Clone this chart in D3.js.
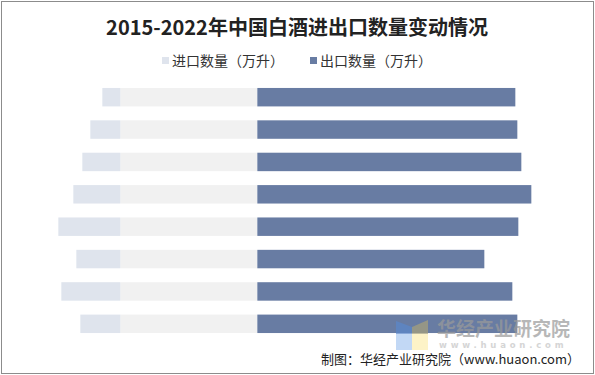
<!DOCTYPE html>
<html>
<head>
<meta charset="utf-8">
<script src="https://cdn.jsdelivr.net/npm/d3@7"></script>
<style>
  body { margin: 0; background: #fff; }
  svg { display: block; }
</style>
</head>
<body>
<div id="chart"></div>
<script>
// data, top row first
const years = ['2015', '2016', '2017', '2018', '2019', '2020', '2021', '2022'];
const importQty = [108, 180, 228, 282, 372, 264, 354, 240];
const exportQty = [1548, 1560, 1584, 1644, 1566, 1362, 1530, 1560];
const helperQty = [822, 822, 822, 822, 822, 822, 822, 822];

const width = 595, height = 375;

const svg = d3.select("#chart")
    .append("svg")
    .attr("width", width)
    .attr("height", height);

// outer frame
svg.append("rect")
    .attr("x", 1.5).attr("y", 1.5)
    .attr("width", width - 3).attr("height", height - 3)
    .attr("fill", "#fff")
    .attr("stroke", "#8c8c8c");

const x = d3.scaleLinear()
    .domain([-1400, 1900])
    .range([24, 574]);

const y = d3.scaleBand()
    .domain(years)
    .range([81, 340])
    .paddingInner(0.43)
    .paddingOuter(0.215);

const rows = years.map((d, i) => ({ year: d, imp: importQty[i], exp: exportQty[i], help: helperQty[i] }));

// helper band (grey)
svg.append("g").selectAll("rect")
    .data(rows).join("rect")
    .attr("x", d => x(-d.help))
    .attr("width", d => x(0) - x(-d.help))
    .attr("y", d => y(d.year))
    .attr("height", y.bandwidth())
    .attr("fill", "#f1f1f1");

// imports
svg.append("g").selectAll("rect")
    .data(rows).join("rect")
    .attr("x", d => x(-d.help - d.imp))
    .attr("width", d => x(-d.help) - x(-d.help - d.imp))
    .attr("y", d => y(d.year))
    .attr("height", y.bandwidth())
    .attr("fill", "#dfe4ed");

// exports
svg.append("g").selectAll("rect")
    .data(rows).join("rect")
    .attr("x", x(0))
    .attr("width", d => x(d.exp) - x(0))
    .attr("y", d => y(d.year))
    .attr("height", y.bandwidth())
    .attr("fill", "#687ca3");

// title
svg.append("text")
    .attr("x", 297)
    .attr("y", 35)
    .attr("text-anchor", "middle")
    .style("font-family", "'Noto Sans CJK SC', sans-serif")
    .style("font-size", "20px")
    .style("font-weight", "bold")
    .style("fill", "#222")
    .text("2015-2022年中国白酒进出口数量变动情况");

// legend
const legend = [
    { label: "进口数量（万升）", color: "#dfe4ed", x: 162 },
    { label: "出口数量（万升）", color: "#687ca3", x: 310 }
];
const lg = svg.append("g").selectAll("g")
    .data(legend).join("g")
    .attr("transform", d => `translate(${d.x},0)`);
lg.append("rect")
    .attr("x", 0).attr("y", 57)
    .attr("width", 7).attr("height", 7)
    .attr("fill", d => d.color);
lg.append("text")
    .attr("x", 10)
    .attr("y", 65.5)
    .style("font-family", "'Noto Sans CJK SC', sans-serif")
    .style("font-size", "14px")
    .style("fill", "#333")
    .text(d => d.label);

// watermark
const wm = svg.append("g").attr("opacity", 0.7);
wm.append("rect").attr("x", 396).attr("y", 334).attr("width", 16).attr("height", 16).attr("fill", "#a9c8f2");
wm.append("polygon").attr("points", "396,321 412,327 412,334 396,334").attr("fill", "#5a88cc");
wm.append("rect").attr("x", 412).attr("y", 334).attr("width", 16).attr("height", 16).attr("fill", "#fdeeb0");
wm.append("polygon").attr("points", "412,327 428,320 428,334 412,334").attr("fill", "#a8a27a");
wm.append("text")
    .attr("x", 437).attr("y", 336)
    .style("font-family", "'Noto Sans CJK SC', sans-serif")
    .style("font-size", "19px")
    .style("font-weight", "bold")
    .style("fill", "#9a9a9a")
    .text("华经产业研究院");
wm.append("text")
    .attr("x", 439).attr("y", 347.5)
    .style("font-family", "'DejaVu Sans', sans-serif")
    .style("font-size", "8.5px")
    .style("font-weight", "bold")
    .style("letter-spacing", "3.8px")
    .style("fill", "#c4c4c4")
    .text("www.huaon.com");

// source
svg.append("text")
    .attr("x", 580)
    .attr("y", 364)
    .attr("text-anchor", "end")
    .style("font-family", "'Noto Sans CJK SC', sans-serif")
    .style("font-size", "13px")
    .style("fill", "#222")
    .text("制图：华经产业研究院（www.huaon.com）");
</script>
</body>
</html>
